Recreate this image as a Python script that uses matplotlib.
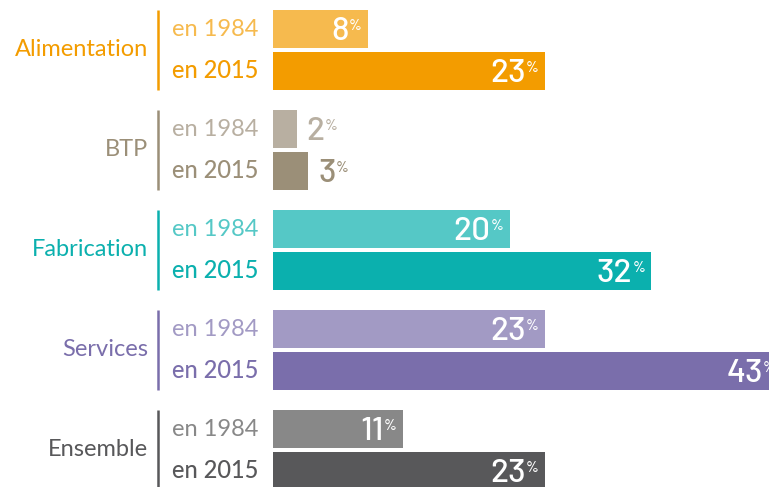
import matplotlib
matplotlib.use("Agg")
import matplotlib.pyplot as plt

W, H = 769, 487

categories = ["Alimentation", "BTP", "Fabrication", "Services", "Ensemble"]
years = ["en 1984", "en 2015"]
v1984 = [8, 2, 20, 23, 11]
v2015 = [23, 3, 32, 43, 23]
light = ["#F6BA4E", "#B8AFA1", "#55C8C6", "#A29AC4", "#888888"]
dark = ["#F39C00", "#9B8F78", "#0BB0AE", "#7A6EAB", "#58585A"]

LABEL_FONT = ["Lato", "DejaVu Sans"]
NUM_FONT = ["Barlow", "DejaVu Sans"]

fig = plt.figure(figsize=(W / 100, H / 100), dpi=100)

# pixel-unit axes for labels and separators
bg = fig.add_axes([0, 0, 1, 1])
bg.set_xlim(0, W)
bg.set_ylim(H, 0)
bg.axis("off")

# bars: zero at x=273 px, 23% ends at 545 px
x0 = 273
ppu = 272 / 23
ax = fig.add_axes([x0 / W, 0, 1 - x0 / W, 1])
ax.set_xlim(0, (W - x0) / ppu)
ax.set_ylim(H, 0)
ax.axis("off")

renderer = fig.canvas.get_renderer()
txt = dict(family=NUM_FONT, weight=450, annotation_clip=False, textcoords="offset pixels")


def value_label(v, yc, color, inside):
    base = yc + 10.5
    if inside:
        pct = ax.annotate("%", (v, base - 20), xytext=(-6, 0), ha="right", va="top",
                          fontsize=11, color="white", **txt)
        ext = pct.get_window_extent(renderer)
        ax.annotate(str(v), (v, base), xytext=(-6 - ext.width, 0), ha="right", va="baseline",
                    fontsize=24, color="white", **txt)
    else:
        num = ax.annotate(str(v), (v, base), xytext=(10, 0), ha="left", va="baseline",
                          fontsize=24, color=color, **txt)
        ext = num.get_window_extent(renderer)
        ax.annotate("%", (v, base - 20), xytext=(10 + ext.width, 0), ha="left", va="top",
                    fontsize=11, color=color, **txt)


for i, cat in enumerate(categories):
    yc = 50 + 100 * i
    y1, y2 = yc - 21, yc + 21
    ax.barh(y1, v1984[i], height=38, color=light[i])
    ax.barh(y2, v2015[i], height=38, color=dark[i])
    value_label(v1984[i], y1, light[i], v1984[i] >= 5)
    value_label(v2015[i], y2, dark[i], v2015[i] >= 5)

    bg.text(148, yc, cat, ha="right", va="center", fontsize=17, color=dark[i], family=LABEL_FONT)
    bg.plot([158, 158], [yc - 40, yc + 40], color=dark[i], lw=1.8, solid_capstyle="butt")
    bg.text(258, y1, years[0], ha="right", va="center", fontsize=17, color=light[i], family=LABEL_FONT)
    bg.text(258, y2, years[1], ha="right", va="center", fontsize=17, color=dark[i], family=LABEL_FONT,
            weight="medium")

fig.savefig("out.png", dpi=100)
